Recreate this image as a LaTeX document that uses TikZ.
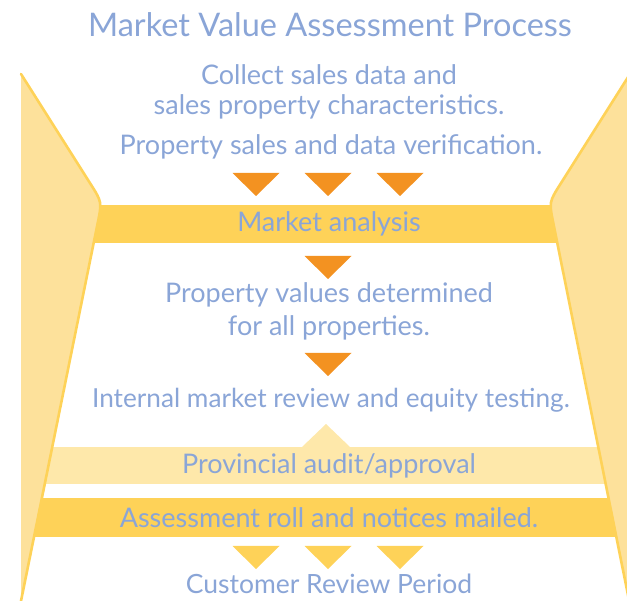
\documentclass[tikz,border=0pt]{standalone}
\usepackage{fontspec}
\setmainfont{Lato}
\definecolor{txtblue}{RGB}{138,165,215}
\definecolor{goldband}{RGB}{254,210,88}
\definecolor{goldpale}{RGB}{253,225,155}
\definecolor{creamband}{RGB}{254,232,170}
\definecolor{arroworange}{RGB}{243,146,33}
\begin{document}
\begin{tikzpicture}[x=1pt,y=-1pt,
  lbl/.style={text=txtblue, inner sep=0pt, anchor=base,
              font=\fontsize{27}{30}\selectfont},
  multilbl/.style={lbl, align=center},
  titlelbl/.style={lbl, font=\fontsize{32.5}{36}\selectfont},
  band/.style={inner sep=0pt, text=txtblue, font=\fontsize{27}{30}\selectfont},
  strongband/.style={band, fill=goldband},
  paleband/.style={band, fill=creamband},
  sideshape/.style={fill=goldpale},
  sideedge/.style={draw=goldband, line width=2.6pt, line cap=round, line join=round},
  pics/downtri/.style={code={\fill[#1] (-23.5,0) -- (23.5,0) -- (0,23) -- cycle;}},
  pics/uptri/.style={code={\fill[#1] (-24,0) -- (24,0) -- (0,-23) -- cycle;}}
]
\useasboundingbox (0,0) rectangle (627,601);

% texts (base anchor = baseline of the last line)
\node[titlelbl] (title) at (330,37) {Market Value Assessment Process};
\node[multilbl, font=\fontsize{27}{30}\selectfont] (collect) at (329,115)
  {Collect sales data and\\sales property characteristics.};
\node[lbl] (verify) at (331,155) {Property sales and data verification.};
\node[multilbl, font=\fontsize{27}{33}\selectfont] (values) at (329,336)
  {Property values determined\\for all properties.};
\node[lbl, font=\fontsize{26.2}{30}\selectfont] (review) at (331,408) {Internal market review and equity testing.};
\node[lbl, font=\fontsize{26.5}{30}\selectfont] (period) at (329,594) {Customer Review Period};

% horizontal bands
\node[strongband, minimum width=480pt, minimum height=38pt] (market) at (329,224) {Market analysis};
\node[paleband, minimum width=580pt, minimum height=37pt] (audit) at (329,465.5) {Provincial audit/approval};
\node[strongband, minimum width=600pt, minimum height=39pt] (roll) at (329,517.5) {Assessment roll and notices mailed.};

% arrow triangles
\foreach \x in {256,328,400} \pic at (\x,173) {downtri=arroworange};
\pic at (328,256) {downtri=arroworange};
\pic at (328,353) {downtri=arroworange};
\pic at (326,447) {uptri=creamband};
\foreach \x in {256,328,400} \pic at (\x,546) {downtri=goldband};

% side funnel walls
\coordinate (ltop) at (21,74);
\coordinate (lbot) at (21,601);
\coordinate (la) at (90.2,183.4);
\coordinate (lc) at (102,202);
\coordinate (lb) at (97.6,223.6);
\fill[sideshape] (ltop) -- (la) .. controls (lc) .. (lb) -- (lbot) -- cycle;
\draw[sideedge] (ltop) -- (la) .. controls (lc) .. (lb) -- (lbot);

\coordinate (rtop) at (630,74);
\coordinate (rbot) at (630,605);
\coordinate (ra) at (560.8,183.4);
\coordinate (rc) at (549,202);
\coordinate (rb) at (553.4,223.6);
\fill[sideshape] (rtop) -- (ra) .. controls (rc) .. (rb) -- (rbot) -- cycle;
\draw[sideedge] (rtop) -- (ra) .. controls (rc) .. (rb) -- (rbot);
\end{tikzpicture}
\end{document}
